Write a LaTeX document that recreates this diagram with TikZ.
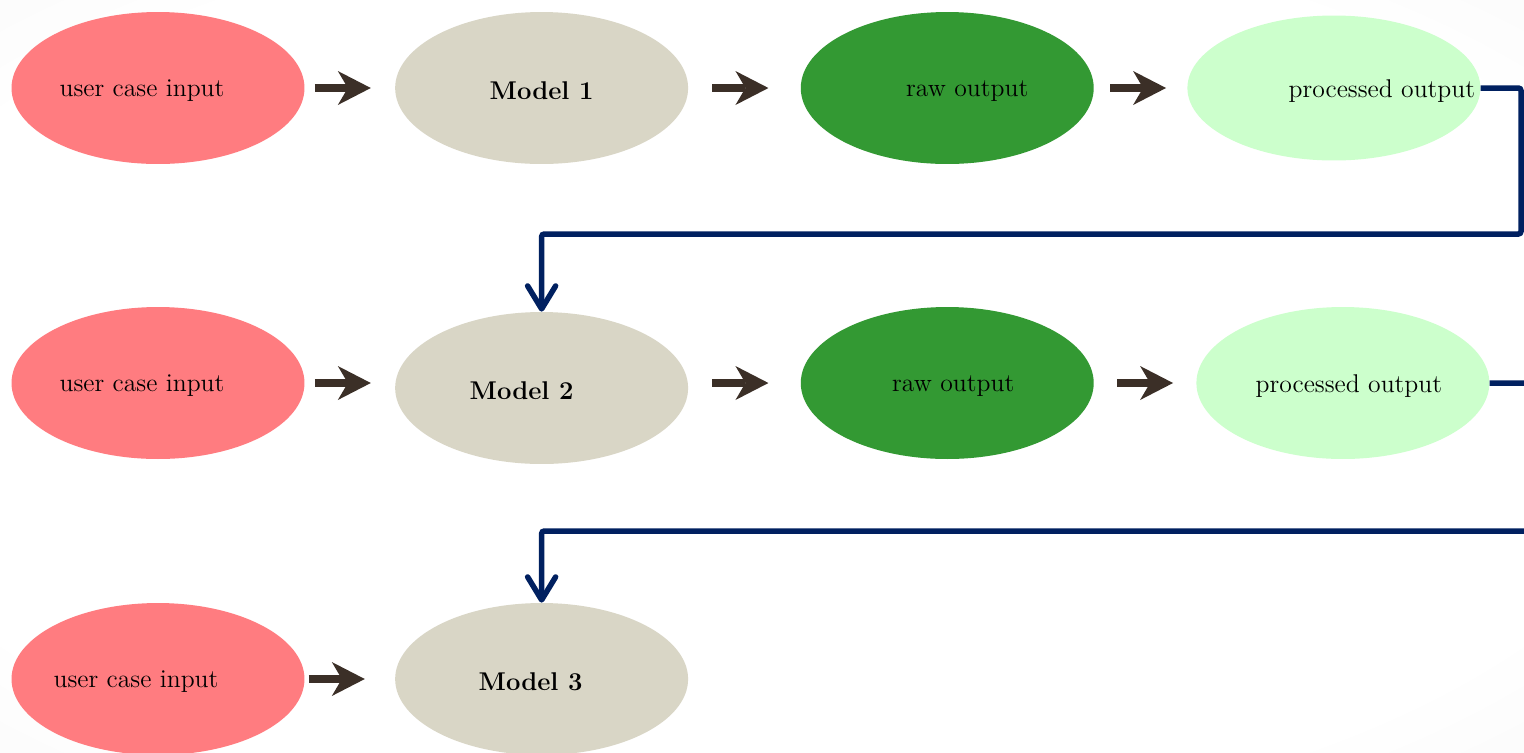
\documentclass[tikz,border=0pt]{standalone}
\usepackage{tikz}
\usetikzlibrary{shapes,arrows.meta,positioning}

\definecolor{caseRed}{HTML}{FF7C80}
\definecolor{modelTan}{HTML}{D9D6C6}
\definecolor{rawGreen}{HTML}{339933}
\definecolor{doneGreen}{HTML}{CCFFCC}
\definecolor{flowBrown}{HTML}{3B2F27}
\definecolor{feedNavy}{HTML}{002060}
\pgfdeclareradialshading{backdrop}{\pgfpoint{0cm}{0cm}}{color(0bp)=(white); color(30bp)=(white); color(50bp)=(black!5)}

\begin{document}
\begin{tikzpicture}[
  x=0.02cm, y=-0.02cm,
  node distance=1.8cm,
  oval/.style={ellipse, minimum width=5.86cm, minimum height=3.04cm, inner sep=0pt},
  input/.style={oval, fill=caseRed},
  model/.style={oval, fill=modelTan},
  raw/.style={oval, fill=rawGreen},
  done/.style={oval, fill=doneGreen},
  txt/.style 2 args={label={[xshift=#1]center:#2}},
  every label/.style={font=\fontsize{14.6}{17}\selectfont, text=black, yshift=-0.06cm},
  flow/.style={-{Stealth[length=0.66cm, width=0.68cm, inset=0.2cm, line width=0pt]}, line width=0.16cm, draw=flowBrown},
  feed/.style={-{Straight Barb[length=0.46cm, width=0.56cm, round]}, line width=0.11cm, draw=feedNavy, rounded corners=1.5pt}
]
  % Page and backdrop
  \clip (0,0) rectangle (1524,752);
  \shade[shading=backdrop] (0,0) rectangle (1524,752);

  % First run
  \node[input, txt={-0.32cm}{user case input}] (in1) at (158,88) {};
  \node[model, txt={0cm}{\textbf{Model 1}}, right=of in1] (m1) {};
  \node[raw, txt={0.4cm}{raw output}, right=2.24cm of m1] (raw1) {};
  \node[done, minimum height=2.9cm, txt={0.96cm}{processed output}, right=1.86cm of raw1] (out1) {};

  % Second run
  \node[input, txt={-0.32cm}{user case input}] (in2) at (158,383) {};
  \node[model, txt={-0.4cm}{\textbf{Model 2}}, right=of in2, yshift=-0.1cm] (m2) {};
  \node[raw, txt={0.12cm}{raw output}, right=2.24cm of m2, yshift=0.1cm] (raw2) {};
  \node[done, txt={0.12cm}{processed output}, right=2.04cm of raw2] (out2) {};

  % Third run
  \node[input, txt={-0.44cm}{user case input}] (in3) at (158,679) {};
  \node[model, txt={-0.22cm}{\textbf{Model 3}}, right=of in3] (m3) {};

  % Arrows
  \draw[flow, shorten <=0.2cm, shorten >=0.48cm] (in1.east) -- (m1.west);
  \draw[flow, shorten <=0.48cm, shorten >=0.64cm] (m1.east) -- (raw1.west);
  \draw[flow, shorten <=0.32cm, shorten >=0.42cm] (raw1.east) -- (raw1.east -| out1.west);
  \draw[flow, shorten <=0.2cm, shorten >=0.48cm] (in2.east) -- (in2.east -| m2.west);
  \draw[flow, shorten <=0.48cm, shorten >=0.64cm] (m2.east |- raw2.west) -- (raw2.west);
  \draw[flow, shorten <=0.46cm, shorten >=0.46cm] (raw2.east) -- (out2.west);
  \draw[flow, shorten <=0.08cm, shorten >=0.6cm] (in3.east) -- (m3.west);

  % Feedback into the next model
  \coordinate (bend1) at (1521,234);
  \coordinate (bend2) at (1545,531);
  \draw[feed] (out1.east) -| (bend1) -| (m2.north);
  \draw[feed] (out2.east) -| (bend2) -| (m3.north);
\end{tikzpicture}
\end{document}
